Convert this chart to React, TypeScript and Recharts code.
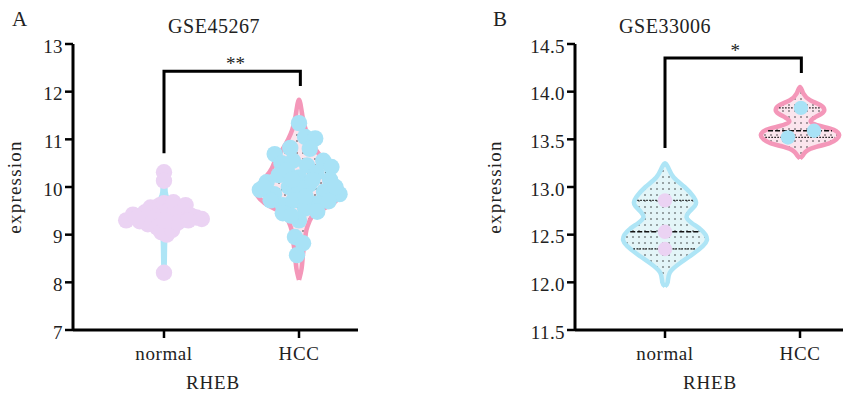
import { ComposedChart, Scatter, XAxis, YAxis } from 'recharts';

const FONT = '"Liberation Serif", "Times New Roman", serif';
const GROUPS = ['normal', 'HCC'];

const BLUE_LINE = '#aee5f6';
const BLUE_FILL = '#e3f5f8';
const PINK_LINE = '#f497b9';
const PINK_FILL = '#fbe5ed';
const BLUE_DOT = '#a8e2f6';
const PINK_DOT = '#ebd3f3';

// ---- GSE45267 (panel A) ----
const A_Y_TICKS = [7, 8, 9, 10, 11, 12, 13];

// [x (group position + jitter), expression]
const A_NORMAL_PTS = [
  [1.0, 10.31], [1.0, 10.13], [1.0, 8.2], [0.72, 9.3], [0.77, 9.42], [0.82, 9.28],
  [0.86, 9.47], [0.9, 9.57], [0.93, 9.36], [0.97, 9.62], [1.0, 9.66], [1.03, 9.5],
  [1.07, 9.68], [1.11, 9.45], [1.16, 9.62], [1.2, 9.4], [1.24, 9.36], [1.28, 9.33],
  [0.88, 9.22], [0.95, 9.15], [0.98, 9.05], [1.02, 9.0], [1.06, 9.1], [1.1, 9.25],
  [1.0, 9.3], [1.18, 9.3], [0.8, 9.35],
];
const A_HCC_PTS = [
  [2.0, 11.34], [2.045, 11.05], [2.12, 11.02], [1.935, 10.82], [1.82, 10.69], [2.08, 10.8],
  [2.18, 10.55], [1.87, 10.5], [1.955, 10.55], [2.06, 10.45], [2.24, 10.42], [1.71, 9.94],
  [2.3, 9.85], [1.76, 10.1], [2.23, 10.15], [1.85, 10.25], [2.13, 10.3], [2.0, 10.2],
  [1.925, 10.0], [2.075, 10.05], [1.815, 9.85], [2.185, 9.9], [2.0, 9.9], [1.88, 9.62],
  [2.135, 9.65], [1.79, 9.72], [2.22, 9.7], [1.96, 9.72], [2.045, 9.55], [1.88, 9.45],
  [2.135, 9.48], [2.0, 9.3], [1.94, 9.4], [1.97, 8.95], [2.03, 8.82], [1.985, 8.57],
  [1.74, 10.0], [2.27, 10.0], [1.91, 10.35], [2.1, 10.15], [1.95, 10.15], [2.05, 9.8],
];

// violin outlines: [expression, half width in group units]
const A_NORMAL_VIOLIN = [
  [8.05, 0], [8.5, 0.006], [9.0, 0.012], [9.1, 0.05], [9.2, 0.15], [9.3, 0.27], [9.38, 0.29],
  [9.45, 0.24], [9.55, 0.16], [9.65, 0.08], [9.75, 0.03], [9.9, 0.012], [10.2, 0.008], [10.42, 0],
];
const A_HCC_VIOLIN = [
  [8.05, 0], [8.3, 0.02], [8.6, 0.03], [8.9, 0.045], [9.1, 0.055], [9.3, 0.08], [9.45, 0.12],
  [9.6, 0.22], [9.75, 0.29], [9.9, 0.32], [10.05, 0.3], [10.2, 0.25], [10.4, 0.2], [10.6, 0.17],
  [10.8, 0.12], [11.0, 0.08], [11.2, 0.05], [11.5, 0.025], [11.83, 0],
];
const A_STATS = { normal: [9.22, 9.35, 9.5], hcc: [9.6, 9.95, 10.3] };
const A_BRACKET = [[1, 10.71], [1, 12.43], [2.01, 12.43], [2.01, 12.12]];
const A_STAR = { x: 1.53, y: 12.43, label: '**' };

// ---- GSE33006 (panel B) ----
const B_Y_TICKS = [11.5, 12, 12.5, 13, 13.5, 14, 14.5];
const B_NORMAL_PTS = [[1.0, 12.86], [1.0, 12.53], [1.0, 12.35]];
const B_HCC_PTS = [[2.007, 13.83], [1.911, 13.52], [2.104, 13.59]];
const B_NORMAL_VIOLIN = [
  [11.96, 0], [12.0, 0.02], [12.1, 0.035], [12.2, 0.11], [12.3, 0.21], [12.38, 0.28],
  [12.44, 0.31], [12.5, 0.3], [12.56, 0.26], [12.62, 0.2], [12.68, 0.16], [12.74, 0.18],
  [12.8, 0.22], [12.84, 0.23], [12.9, 0.21], [13.0, 0.145], [13.1, 0.065], [13.2, 0.025], [13.25, 0],
];
const B_HCC_VIOLIN = [
  [13.3, 0], [13.34, 0.025], [13.38, 0.05], [13.42, 0.12], [13.46, 0.22], [13.5, 0.27],
  [13.545, 0.29], [13.6, 0.25], [13.64, 0.15], [13.685, 0.08], [13.73, 0.11], [13.77, 0.16],
  [13.81, 0.18], [13.86, 0.15], [13.91, 0.075], [13.98, 0.025], [14.05, 0],
];
const B_STATS = { normal: [12.35, 12.53, 12.86], hcc: [13.52, 13.59, 13.83] };
const B_BRACKET = [[1, 13.41], [1, 14.353], [2.01, 14.353], [2.01, 14.196]];
const B_STAR = { x: 1.52, y: 14.353, label: '*' };

type Pt = { x: number; y: number };
const toPts = (arr: number[][]): Pt[] => arr.map(([x, y]) => ({ x, y }));

// right side bottom -> top, then left side back down
function outline(pos: number, profile: number[][]): Pt[] {
  const right = profile.map(([y, w]) => ({ x: pos + w, y }));
  const left = [...profile].reverse().map(([y, w]) => ({ x: pos - w, y }));
  return [...right, ...left.slice(1)];
}

function halfWidthAt(profile: number[][], y: number): number {
  for (let i = 1; i < profile.length; i++) {
    const [y0, w0] = profile[i - 1];
    const [y1, w1] = profile[i];
    if (y >= y0 && y <= y1) return w0 + ((w1 - w0) * (y - y0)) / (y1 - y0);
  }
  return 0;
}

const blank = () => <g />;
const dot = (r: number, color: string) => (p: any) =>
  <circle cx={p.cx} cy={p.cy} r={r} fill={color} />;
const starShape = (p: any) =>
  <text x={p.cx} y={p.cy - 1} textAnchor="middle" fontSize={19} fontFamily={FONT} fill="#222">
    {p.payload.label}
  </text>;

// serif tick labels
const xTick = (p: any) =>
  <text x={p.x} y={p.y} dy="0.71em" textAnchor="middle" fontSize={19} fontFamily={FONT} fill="#222" letterSpacing={0.6}>
    {GROUPS[Math.round(p.payload.value) - 1]}
  </text>;
const yTick = (fmt: (v: number) => string) => (p: any) =>
  <text x={p.x} y={p.y} dy="0.45em" textAnchor="end" fontSize={19} fontFamily={FONT} fill="#222" letterSpacing={0.4}>
    {fmt(p.payload.value)}
  </text>;

interface ViolinDef {
  pos: number;
  profile: number[][];
  line: string;
  tone: 'blue' | 'pink';
  stats: number[];
}

interface PanelProps {
  id: string;
  width: number;
  yWidth: number;
  marginRight: number;
  xDomain: [number, number];
  yDomain: [number, number];
  yTicks: number[];
  tickFmt: (v: number) => string;
  violins: ViolinDef[];
  points: { data: number[][]; color: string; r: number }[];
  bracket: number[][];
  star: { x: number; y: number; label: string };
}

function ViolinPanel(props: PanelProps) {
  const { id, violins } = props;
  return (
    <ComposedChart
      width={props.width}
      height={394}
      margin={{ top: 44, right: props.marginRight, bottom: 24, left: 0 }}>
      <defs>
        <pattern id={`${id}-blue`} width={6} height={6} patternUnits="userSpaceOnUse">
          <rect width={6} height={6} fill={BLUE_FILL} />
          <circle cx={3} cy={3} r={0.7} fill="#111" />
        </pattern>
        <pattern id={`${id}-pink`} width={6} height={6} patternUnits="userSpaceOnUse">
          <rect width={6} height={6} fill={PINK_FILL} />
          <circle cx={3} cy={3} r={0.7} fill="#111" />
        </pattern>
      </defs>
      <XAxis
        type="number"
        dataKey="x"
        domain={props.xDomain}
        allowDataOverflow
        ticks={[1, 2]}
        interval={0}
        height={40}
        tickSize={8}
        tickMargin={9}
        axisLine={{ stroke: '#000', strokeWidth: 3 }}
        tickLine={{ stroke: '#000', strokeWidth: 2.5 }}
        tick={xTick} />
      <YAxis
        type="number"
        dataKey="y"
        domain={props.yDomain}
        allowDataOverflow
        ticks={props.yTicks}
        interval={0}
        width={props.yWidth}
        tickSize={8}
        tickMargin={2}
        axisLine={{ stroke: '#000', strokeWidth: 3 }}
        tickLine={{ stroke: '#000', strokeWidth: 2.5 }}
        tick={yTick(props.tickFmt)}
      />

      {violins.map((v) =>
      <Scatter
        key={`violin-${v.pos}`}
        data={outline(v.pos, v.profile)}
        line={{ stroke: v.line, strokeWidth: 4.5, fill: `url(#${id}-${v.tone})`, strokeLinejoin: 'round' }}
        lineJointType="natural"
        shape={blank}
        isAnimationActive={false} />
      )}

      {violins.flatMap((v) =>
      v.stats.map((s, i) => {
        const w = halfWidthAt(v.profile, s) * 0.92;
        const median = i === 1;
        return (
          <Scatter
            key={`stat-${v.pos}-${i}`}
            data={[{ x: v.pos - w, y: s }, { x: v.pos + w, y: s }]}
            line={{ stroke: '#111', strokeWidth: median ? 1.6 : 1.2, strokeDasharray: median ? '5 2' : '1.5 1.5' }}
            shape={blank}
            isAnimationActive={false} />);

      })
      )}

      {props.points.map((g, i) =>
      <Scatter
        key={`pts-${i}`}
        data={toPts(g.data)}
        shape={dot(g.r, g.color)}
        isAnimationActive={false} />
      )}

      <Scatter
        data={toPts(props.bracket)}
        line={{ stroke: '#000', strokeWidth: 3, fill: 'none' }}
        shape={blank}
        isAnimationActive={false} />
      <Scatter data={[props.star]} shape={starShape} isAnimationActive={false} />
    </ComposedChart>);

}

export default function App() {
  const textStyle = { fontFamily: FONT, fill: '#222' };
  return (
    <div
      style={{
        position: 'absolute',
        left: 0,
        top: 0,
        width: 843,
        height: 394,
        overflow: 'hidden',
        background: '#fff'
      }}>
      <div style={{ position: 'absolute', left: 0, top: 0 }}>
        <ViolinPanel
          id="gse45267"
          width={420}
          yWidth={73}
          marginRight={62}
          xDomain={[0.326, 2.437]}
          yDomain={[7, 13]}
          yTicks={A_Y_TICKS}
          tickFmt={(v) => String(v)}
          violins={[
          { pos: 1, profile: A_NORMAL_VIOLIN, line: BLUE_LINE, tone: 'blue', stats: A_STATS.normal },
          { pos: 2, profile: A_HCC_VIOLIN, line: PINK_LINE, tone: 'pink', stats: A_STATS.hcc }]
          }
          points={[
          { data: A_NORMAL_PTS, color: PINK_DOT, r: 8.2 },
          { data: A_HCC_PTS, color: BLUE_DOT, r: 8.2 }]
          }
          bracket={A_BRACKET}
          star={A_STAR} />
      </div>
      <div style={{ position: 'absolute', left: 420, top: 0 }}>
        <ViolinPanel
          id="gse33006"
          width={424}
          yWidth={155}
          marginRight={0}
          xDomain={[0.3333, 2.3259]}
          yDomain={[11.5, 14.5]}
          yTicks={B_Y_TICKS}
          tickFmt={(v) => v.toFixed(1)}
          violins={[
          { pos: 1, profile: B_NORMAL_VIOLIN, line: BLUE_LINE, tone: 'blue', stats: B_STATS.normal },
          { pos: 2, profile: B_HCC_VIOLIN, line: PINK_LINE, tone: 'pink', stats: B_STATS.hcc }]
          }
          points={[
          { data: B_NORMAL_PTS, color: PINK_DOT, r: 7.2 },
          { data: B_HCC_PTS, color: BLUE_DOT, r: 7.2 }]
          }
          bracket={B_BRACKET}
          star={B_STAR} />
      </div>

      {/* panel letters, titles and axis titles */}
      <svg
        width={843}
        height={394}
        style={{ position: 'absolute', left: 0, top: 0, pointerEvents: 'none' }}>
        <text x={12} y={26} fontSize={21} {...textStyle}>A</text>
        <text x={493} y={26} fontSize={21} {...textStyle}>B</text>
        <text x={214} y={33} fontSize={20} textAnchor="middle" letterSpacing={0.5} {...textStyle}>GSE45267</text>
        <text x={665} y={33} fontSize={20} textAnchor="middle" letterSpacing={0.5} {...textStyle}>GSE33006</text>
        <text transform="translate(21,187) rotate(-90)" fontSize={19} textAnchor="middle" letterSpacing={1.2} {...textStyle}>expression</text>
        <text transform="translate(501,187) rotate(-90)" fontSize={19} textAnchor="middle" letterSpacing={1.2} {...textStyle}>expression</text>
        <text x={213} y={389} fontSize={19} textAnchor="middle" letterSpacing={0.8} {...textStyle}>RHEB</text>
        <text x={710} y={389} fontSize={19} textAnchor="middle" letterSpacing={0.8} {...textStyle}>RHEB</text>
      </svg>
    </div>);

}
